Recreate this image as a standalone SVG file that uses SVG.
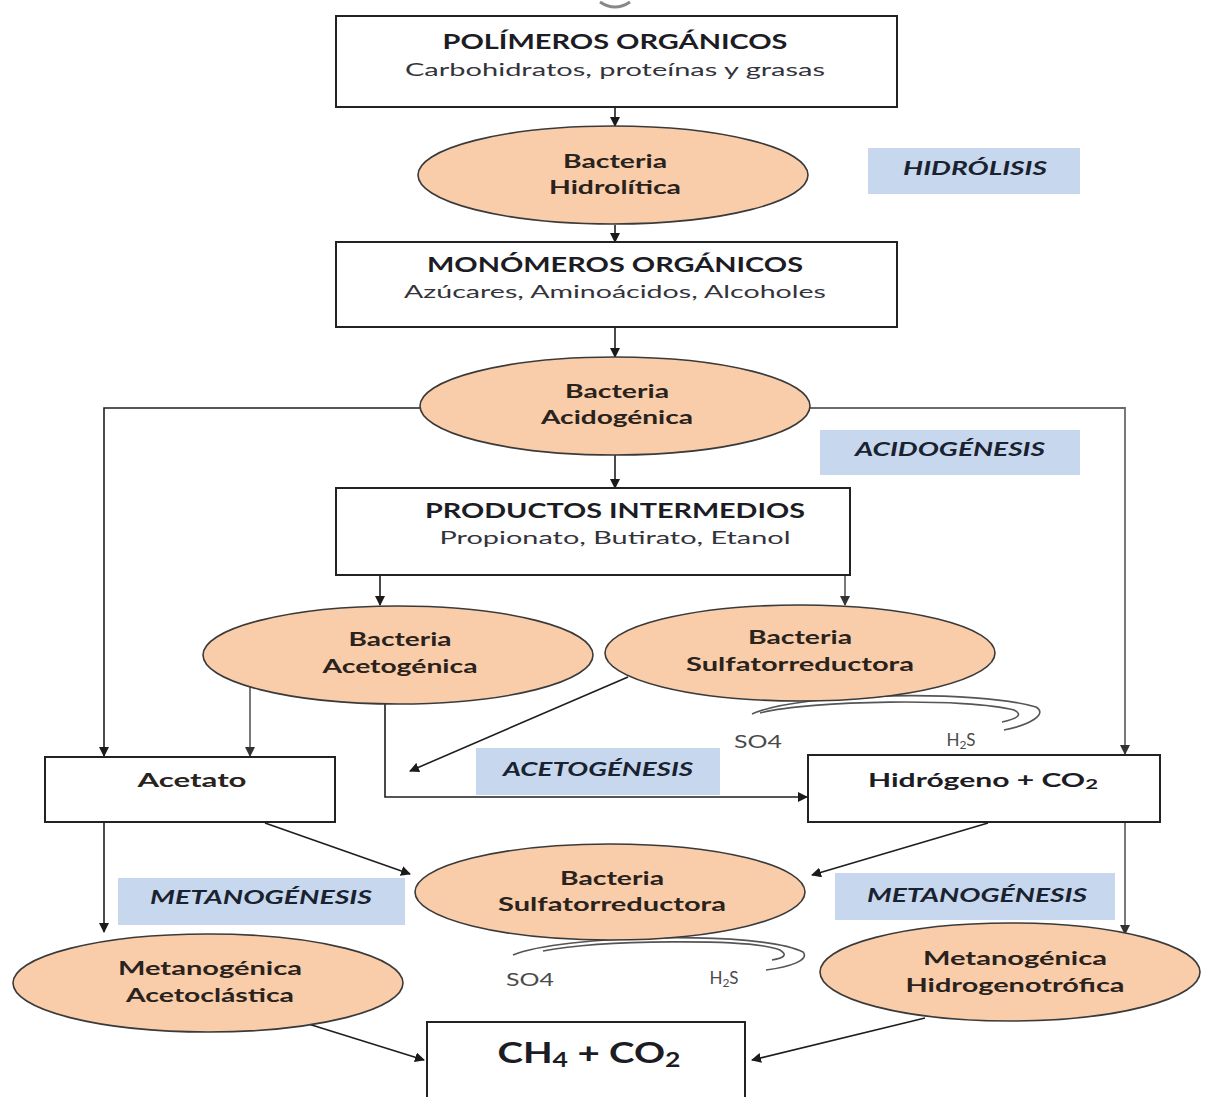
<svg xmlns="http://www.w3.org/2000/svg" width="1213" height="1097" viewBox="0 0 1213 1097">
<defs>
<marker id="ah" viewBox="0 0 10 10" refX="9" refY="5" markerWidth="10" markerHeight="10" markerUnits="userSpaceOnUse" orient="auto">
<path d="M0,0 L10,5 L0,10 z" fill="#1a1a1a"/>
</marker>
<marker id="ahg" viewBox="0 0 10 10" refX="9" refY="5" markerWidth="10" markerHeight="10" markerUnits="userSpaceOnUse" orient="auto">
<path d="M0,0 L10,5 L0,10 z" fill="#333"/>
</marker>
<style>
.box{fill:#fff;stroke:#222;stroke-width:2}
.ell{fill:#f9cdaa;stroke:#3a3a3a;stroke-width:1.6}
.lab{fill:#c7d8ee}
.t{font-family:Lato,"Open Sans","Liberation Sans",sans-serif;text-anchor:middle;fill:#1c1c24}
.h{font-weight:bold;font-size:20px}
.s{font-size:18px;fill:#33333b}
.e{font-weight:bold;font-size:18px;fill:#2a221c}
.st{font-weight:bold;font-style:italic;font-size:18px;fill:#1a2230}
.sm{font-size:17px;fill:#4a4a4a}
.c{fill:none;stroke:#1e1e1e;stroke-width:1.6}
.g{fill:none;stroke:#6a6a6a;stroke-width:1.8}
.cv{fill:none;stroke:#555;stroke-width:1.6}
</style>
</defs>

<path d="M600,2 Q615,12 630,2" fill="none" stroke="#888" stroke-width="3"/>

<g id="connectors">
<line class="c" x1="615" y1="107" x2="615" y2="126" marker-end="url(#ah)"/>
<line class="c" x1="615" y1="225" x2="615" y2="242" marker-end="url(#ah)"/>
<line class="c" x1="615" y1="327" x2="615" y2="357" marker-end="url(#ah)"/>
<line class="c" x1="615" y1="455" x2="615" y2="488" marker-end="url(#ah)"/>
<polyline class="c" points="421,408 104,408 104,756" marker-end="url(#ah)"/>
<polyline class="g" points="809,408 1125,408 1125,754" marker-end="url(#ahg)"/>
<line class="c" x1="380" y1="575" x2="380" y2="605" marker-end="url(#ah)"/>
<line class="g" x1="845" y1="575" x2="845" y2="605" marker-end="url(#ahg)"/>
<line class="g" x1="250" y1="687" x2="250" y2="756" marker-end="url(#ahg)"/>
<polyline class="c" points="385,703 385,797 807,797" marker-end="url(#ah)"/>
<line class="c" x1="628" y1="677" x2="410" y2="771" marker-end="url(#ah)"/>
<line class="c" x1="104" y1="822" x2="104" y2="932" marker-end="url(#ah)"/>
<line class="c" x1="265" y1="823" x2="410" y2="874" marker-end="url(#ah)"/>
<line class="c" x1="988" y1="823" x2="812" y2="875" marker-end="url(#ah)"/>
<line class="g" x1="1125" y1="822" x2="1125" y2="934" marker-end="url(#ahg)"/>
<line class="c" x1="302" y1="1022" x2="424" y2="1060" marker-end="url(#ah)"/>
<line class="c" x1="925" y1="1018" x2="752" y2="1060" marker-end="url(#ah)"/>
<path class="cv" d="M752,714 C800,692 980,690 1036,707 C1048,714 1030,725 1004,730"/>
<path class="cv" d="M760,713 C810,700 970,698 1014,710 C1024,715 1016,719 1002,722"/>
<path class="cv" d="M513,955 C560,935 760,930 803,952 C810,960 790,967 766,970"/>
<path class="cv" d="M543,951 C600,940 750,938 780,950 C788,955 784,958 772,960"/>
</g>

<g id="polimeros">
<rect class="box" x="336" y="16" width="561" height="91"/>
<text class="t h" x="615" y="49" textLength="345" lengthAdjust="spacingAndGlyphs">POLÍMEROS ORGÁNICOS</text>
<text class="t s" x="615" y="76" textLength="420" lengthAdjust="spacingAndGlyphs">Carbohidratos, proteínas y grasas</text>
</g>

<g id="hidrolitica">
<ellipse class="ell" cx="613" cy="175" rx="195" ry="49"/>
<text class="t e" x="615" y="168" textLength="104" lengthAdjust="spacingAndGlyphs">Bacteria</text>
<text class="t e" x="615" y="194" textLength="132" lengthAdjust="spacingAndGlyphs">Hidrolítica</text>
</g>

<g id="lbl-hidrolisis">
<rect class="lab" x="868" y="148" width="212" height="46"/>
<text class="t st" x="975" y="175" textLength="144" lengthAdjust="spacingAndGlyphs">HIDRÓLISIS</text>
</g>

<g id="monomeros">
<rect class="box" x="336" y="242" width="561" height="85"/>
<text class="t h" x="615" y="272" textLength="376" lengthAdjust="spacingAndGlyphs">MONÓMEROS ORGÁNICOS</text>
<text class="t s" x="615" y="298" textLength="422" lengthAdjust="spacingAndGlyphs">Azúcares, Aminoácidos, Alcoholes</text>
</g>

<g id="acidogenica">
<ellipse class="ell" cx="615" cy="406" rx="195" ry="49"/>
<text class="t e" x="617" y="398" textLength="104" lengthAdjust="spacingAndGlyphs">Bacteria</text>
<text class="t e" x="617" y="424" textLength="152" lengthAdjust="spacingAndGlyphs">Acidogénica</text>
</g>

<g id="lbl-acidogenesis">
<rect class="lab" x="820" y="430" width="260" height="45"/>
<text class="t st" x="950" y="456" textLength="190" lengthAdjust="spacingAndGlyphs">ACIDOGÉNESIS</text>
</g>

<g id="productos">
<rect class="box" x="336" y="488" width="514" height="87"/>
<text class="t h" x="615" y="518" textLength="380" lengthAdjust="spacingAndGlyphs">PRODUCTOS INTERMEDIOS</text>
<text class="t s" x="615" y="544" textLength="351" lengthAdjust="spacingAndGlyphs">Propionato, Butirato, Etanol</text>
</g>

<g id="acetogenica">
<ellipse class="ell" cx="398" cy="655" rx="195" ry="49"/>
<text class="t e" x="400" y="646" textLength="103" lengthAdjust="spacingAndGlyphs">Bacteria</text>
<text class="t e" x="400" y="673" textLength="155" lengthAdjust="spacingAndGlyphs">Acetogénica</text>
</g>

<g id="sulfato1">
<ellipse class="ell" cx="800" cy="653" rx="195" ry="48"/>
<text class="t e" x="800" y="644" textLength="104" lengthAdjust="spacingAndGlyphs">Bacteria</text>
<text class="t e" x="800" y="671" textLength="228" lengthAdjust="spacingAndGlyphs">Sulfatorreductora</text>
</g>

<g id="so4-h2s-1">
<text class="t sm" x="758" y="748" textLength="48" lengthAdjust="spacingAndGlyphs">SO4</text>
<text class="t sm" x="961" y="746">H<tspan font-size="12" dy="3">2</tspan><tspan dy="-3">S</tspan></text>
</g>

<g id="lbl-acetogenesis">
<rect class="lab" x="476" y="748" width="244" height="47"/>
<text class="t st" x="598" y="776" textLength="190" lengthAdjust="spacingAndGlyphs">ACETOGÉNESIS</text>
</g>

<g id="acetato">
<rect class="box" x="45" y="757" width="290" height="65"/>
<text class="t e" x="192" y="787" textLength="109" lengthAdjust="spacingAndGlyphs">Acetato</text>
</g>

<g id="hidrogeno">
<rect class="box" x="808" y="755" width="352" height="67"/>
<text class="t" x="983" y="787" font-size="19" font-weight="bold" fill="#2a221c" textLength="230" lengthAdjust="spacingAndGlyphs">Hidrógeno + CO<tspan font-size="14" dy="2">2</tspan></text>
</g>

<g id="sulfato2">
<ellipse class="ell" cx="610" cy="892" rx="195" ry="48"/>
<text class="t e" x="612" y="885" textLength="104" lengthAdjust="spacingAndGlyphs">Bacteria</text>
<text class="t e" x="612" y="911" textLength="228" lengthAdjust="spacingAndGlyphs">Sulfatorreductora</text>
</g>

<g id="so4-h2s-2">
<text class="t sm" x="530" y="986" textLength="48" lengthAdjust="spacingAndGlyphs">SO4</text>
<text class="t sm" x="724" y="984">H<tspan font-size="12" dy="3">2</tspan><tspan dy="-3">S</tspan></text>
</g>

<g id="lbl-metano-left">
<rect class="lab" x="118" y="878" width="287" height="47"/>
<text class="t st" x="261" y="904" textLength="222" lengthAdjust="spacingAndGlyphs">METANOGÉNESIS</text>
</g>

<g id="lbl-metano-right">
<rect class="lab" x="835" y="873" width="280" height="47"/>
<text class="t st" x="977" y="902" textLength="220" lengthAdjust="spacingAndGlyphs">METANOGÉNESIS</text>
</g>

<g id="acetoclastica">
<ellipse class="ell" cx="208" cy="983" rx="195" ry="49"/>
<text class="t e" x="210" y="975" textLength="184" lengthAdjust="spacingAndGlyphs">Metanogénica</text>
<text class="t e" x="210" y="1002" textLength="168" lengthAdjust="spacingAndGlyphs">Acetoclástica</text>
</g>

<g id="hidrogenotrofica">
<ellipse class="ell" cx="1010" cy="972" rx="190" ry="49"/>
<text class="t e" x="1015" y="965" textLength="184" lengthAdjust="spacingAndGlyphs">Metanogénica</text>
<text class="t e" x="1015" y="992" textLength="219" lengthAdjust="spacingAndGlyphs">Hidrogenotrófica</text>
</g>

<g id="ch4">
<rect class="box" x="427" y="1022" width="318" height="90"/>
<text class="t" x="589" y="1063" font-size="29" font-weight="bold" textLength="183" lengthAdjust="spacingAndGlyphs">CH<tspan font-size="20" dy="4">4</tspan><tspan dy="-4"> + CO</tspan><tspan font-size="20" dy="4">2</tspan></text>
</g>
</svg>
